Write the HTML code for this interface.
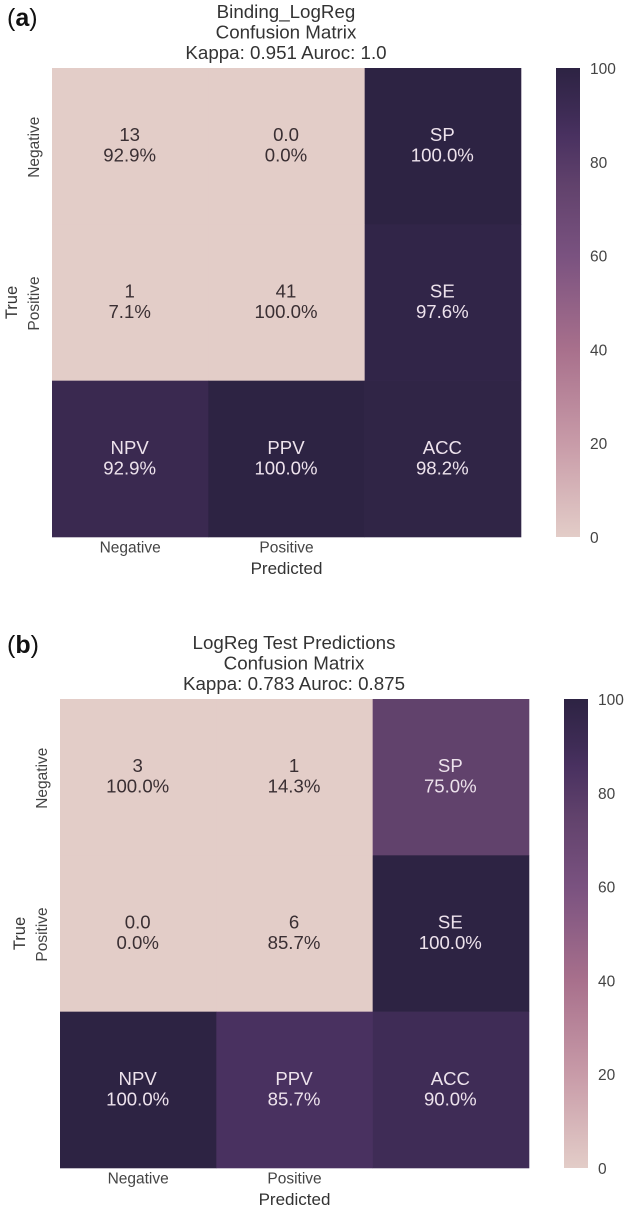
<!DOCTYPE html>
<html lang="en">
<head>
<meta charset="utf-8">
<title>Confusion matrices</title>
<style>
html,body{margin:0;padding:0;background:#fff;}
svg{display:block;filter:blur(0.3px);}
text{font-family:"Liberation Sans",sans-serif;}
</style>
</head>
<body>
<svg id="chart" width="633" height="1210" viewBox="0 0 633 1210" xmlns="http://www.w3.org/2000/svg">
  <defs>
    <linearGradient id="cbar-gradient" x1="0" y1="1" x2="0" y2="0"></linearGradient>
  </defs>
</svg>
<script>
// Panel data
const classLabels = ['Negative', 'Positive'];
const colorbarTicks = [0, 20, 40, 60, 80, 100];

const panelLetters = ['a', 'b'];

const titleA = ['Binding_LogReg', 'Confusion Matrix', 'Kappa: 0.951 Auroc: 1.0'];
const valuesA = [[0, 0, 100], [0, 0, 97.6], [92.9, 100, 98.2]];
const topLinesA = [['13', '0.0', 'SP'], ['1', '41', 'SE'], ['NPV', 'PPV', 'ACC']];
const bottomLinesA = [['92.9%', '0.0%', '100.0%'], ['7.1%', '100.0%', '97.6%'], ['92.9%', '100.0%', '98.2%']];

const titleB = ['LogReg Test Predictions', 'Confusion Matrix', 'Kappa: 0.783 Auroc: 0.875'];
const valuesB = [[0, 0, 75], [0, 0, 100], [100, 85.7, 90]];
const topLinesB = [['3', '1', 'SP'], ['0.0', '6', 'SE'], ['NPV', 'PPV', 'ACC']];
const bottomLinesB = [['100.0%', '14.3%', '75.0%'], ['0.0%', '85.7%', '100.0%'], ['100.0%', '85.7%', '90.0%']];

// Colormap anchors (value, rgb)
const cmapValues = [0, 20, 40, 60, 75, 85.7, 90, 100];
const cmapColors = [[227,205,200],[200,155,168],[168,112,140],[122,82,128],[97,66,108],[73,49,96],[63,44,86],[45,35,67]];

const svg = document.getElementById('chart');
const NS = 'http://www.w3.org/2000/svg';

function colorFor(v) {
  let i = 0;
  while (i < cmapValues.length - 2 && v > cmapValues[i + 1]) i++;
  const t = (v - cmapValues[i]) / (cmapValues[i + 1] - cmapValues[i]);
  const c = cmapColors[i].map((a, k) => Math.round(a + (cmapColors[i + 1][k] - a) * t));
  return 'rgb(' + c.join(',') + ')';
}

function makeText(parent, str, x, y, size, fill, anchor, rotate) {
  const t = document.createElementNS(NS, 'text');
  t.setAttribute('x', x);
  t.setAttribute('y', y);
  t.setAttribute('font-size', size);
  t.setAttribute('fill', fill);
  t.setAttribute('text-anchor', anchor || 'middle');
  if (rotate) t.setAttribute('transform', 'rotate(' + rotate + ' ' + x + ' ' + y + ')');
  t.textContent = str;
  parent.appendChild(t);
  return t;
}

// Colorbar gradient built from colormap
const grad = document.getElementById('cbar-gradient');
cmapValues.forEach((v, i) => {
  const s = document.createElementNS(NS, 'stop');
  s.setAttribute('offset', (v / 100));
  s.setAttribute('stop-color', 'rgb(' + cmapColors[i].join(',') + ')');
  grad.appendChild(s);
});

function drawPanel(letter, left, top, letterY, title, values, topLines, bottomLines) {
  const size = 469;
  const cell = size / values.length;
  const xPos = c => left + c * cell;
  const yPos = r => top + r * cell;
  const cbarX = left + 504;
  const cbarW = 24;
  const cbarY = v => top + size - (v / 100) * size;

  const g = document.createElementNS(NS, 'g');
  
  
  svg.appendChild(g);

  const lab = makeText(g, '(', 7, letterY, 25, '#111', 'start');
  
  
  const bold = document.createElementNS(NS, 'tspan');
  bold.setAttribute('font-weight', 'bold');
  bold.textContent = letter;
  lab.appendChild(bold);
  lab.appendChild(document.createTextNode(')'));

  const titleOffsets = [-50, -29.5, -9];
  title.forEach((line, i) => {
    const t = makeText(g, line, left + cell * 1.5 - 0.5, top + titleOffsets[i], 18.75, '#333');
    
    
  });

  values.forEach((row, r) => {
    row.forEach((v, c) => {
      const rect = document.createElementNS(NS, 'rect');
      rect.setAttribute('x', xPos(c));
      rect.setAttribute('y', yPos(r));
      rect.setAttribute('width', cell + 0.3);
      rect.setAttribute('height', cell + 0.3);
      rect.setAttribute('fill', colorFor(v));
      
      
      g.appendChild(rect);
      const fill = v > 50 ? '#ede2ec' : '#3a2f33';
      const cx = xPos(c) + cell / 2 - 0.5;
      const cy = yPos(r) + cell / 2;
      const t1 = makeText(g, topLines[r][c], cx, cy - 5, 18.6, fill);
      
      
      const t2 = makeText(g, bottomLines[r][c], cx, cy + 15.5, 18.6, fill);
      
      
    });
  });

  classLabels.forEach((name, i) => {
    const xt = makeText(g, name, xPos(i) + cell / 2, top + size + 15.5, 15.5, '#444');
    
    
    const yx = left - 13;
    const yt = makeText(g, name, yx, yPos(i) + cell / 2 + 1, 15.5, '#444', 'middle', -90);
    
    
  });

  const xl = makeText(g, 'Predicted', xPos(1) + cell / 2, top + size + 37, 17, '#333');
  
  
  const yl = makeText(g, 'True', left - 35, yPos(1) + cell / 2, 16.5, '#333', 'middle', -90);
  
  

  const bar = document.createElementNS(NS, 'rect');
  bar.setAttribute('x', cbarX);
  bar.setAttribute('y', cbarY(100));
  bar.setAttribute('width', cbarW);
  bar.setAttribute('height', cbarY(0) - cbarY(100));
  bar.setAttribute('fill', 'url(#cbar-gradient)');
  
  
  g.appendChild(bar);

  colorbarTicks.forEach(v => {
    const t = makeText(g, String(v), cbarX + 34, cbarY(v) + 6, 15.5, '#444', 'start');
    
    
  });
}

drawPanel(panelLetters[0], 52, 68, 26, titleA, valuesA, topLinesA, bottomLinesA);
drawPanel(panelLetters[1], 60, 699, 653, titleB, valuesB, topLinesB, bottomLinesB);
</script>
</body>
</html>
